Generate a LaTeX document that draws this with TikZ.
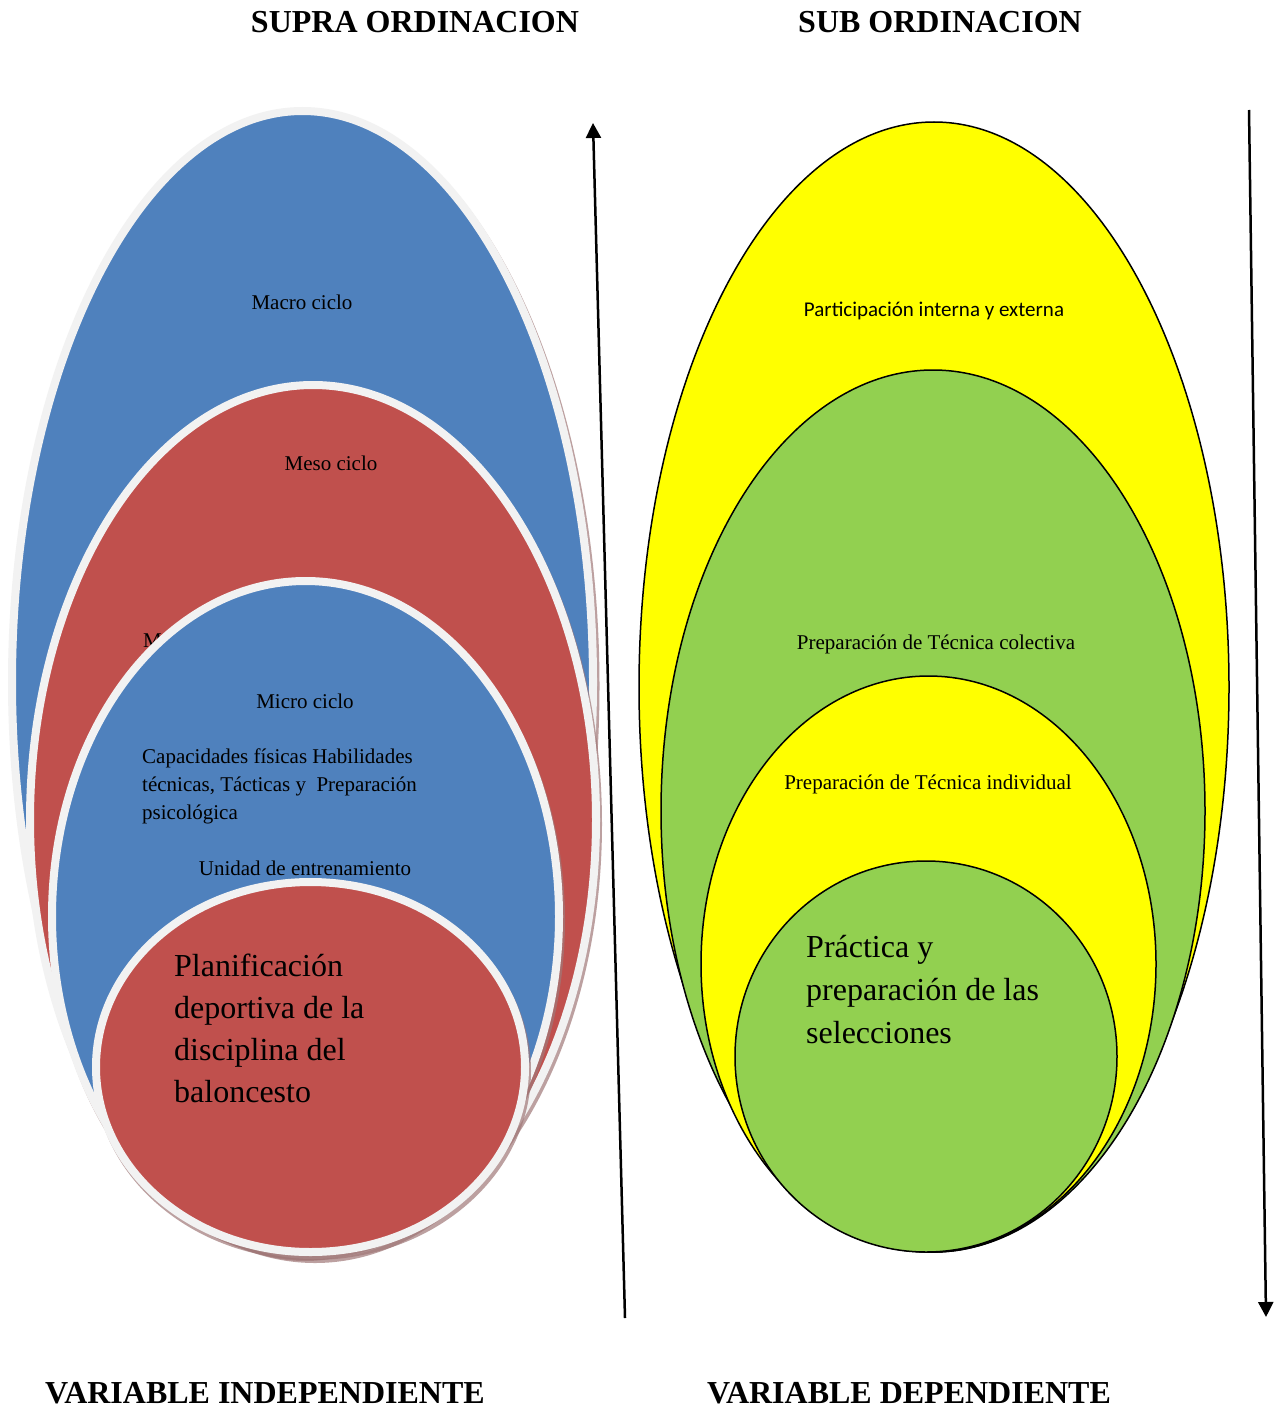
\documentclass[tikz,border=0pt]{standalone}
\usepackage{fontspec}
\setmainfont{Liberation Serif}
\newfontfamily\calfont{Carlito}
\usetikzlibrary{shapes.geometric,arrows.meta}
\definecolor{cblue}{HTML}{4F81BD}
\definecolor{cred}{HTML}{C0504D}
\definecolor{cyel}{HTML}{FFFF00}
\definecolor{cgreen}{HTML}{92D050}
\definecolor{cbord}{HTML}{F2F2F2}
\definecolor{cshad}{HTML}{A07878}
\begin{document}
\begin{tikzpicture}[x=1pt,y=-1pt,
 lell/.style={ellipse, inner sep=0, outer sep=0, draw=cbord, line width=8pt},
 rell/.style={ellipse, inner sep=0, outer sep=0, draw=black, line width=1.5pt},
 shad/.style={ellipse, inner sep=0, outer sep=0, fill=cshad, opacity=0.7},
 head/.style={font=\fontsize{32}{38}\selectfont\bfseries, anchor=base, inner sep=0},
 small/.style={font=\fontsize{21}{28}\selectfont, inner sep=0},
 big/.style={font=\fontsize{32}{42}\selectfont, inner sep=0, anchor=base west},
 arr/.style={line width=2.5pt, -{Triangle[length=15pt,width=15pt]}}]
\useasboundingbox[fill=white] (0,0) rectangle (1285,1410);

% headings
\node[head] (supra) at (415,33) {SUPRA ORDINACION};
\node[head] (sub) at (940,33) {SUB ORDINACION};
\node[head] (vind) at (265,1403) {VARIABLE INDEPENDIENTE};
\node[head] (vdep) at (909,1403) {VARIABLE DEPENDIENTE};

% left group
\node[shad, minimum width=589pt, minimum height=1150pt] (macros) at (305,686) {};
\node[lell, fill=cblue, minimum width=581pt, minimum height=1142pt] (macro) at (302.5,682) {};
\node[shad, minimum width=574pt, minimum height=878pt] (mesos) at (315,824) {};
\node[lell, fill=cred, minimum width=566pt, minimum height=870pt] (meso) at (313,820) {};
\node[small, anchor=base west] (mhid) at (143,647) {Micro ciclo};
\node[shad, minimum width=515pt, minimum height=679pt] (micros) at (307.5,920.5) {};
\node[lell, fill=cblue, minimum width=507pt, minimum height=671pt] (micro) at (305.5,916.5) {};
\node[shad, minimum width=437pt, minimum height=378pt] (unis) at (312.5,1071) {};
\node[lell, fill=cred, minimum width=429pt, minimum height=370pt] (uni) at (310.5,1067) {};

\node[small, anchor=base] (tmacro) at (302,309) {Macro ciclo};
\node[small, anchor=base] (tmeso) at (331,470) {Meso ciclo};
\node[small, anchor=base] (tmicro) at (305,708) {Micro ciclo};
\node[small, anchor=base west] (cap1) at (142,763) {Capacidades físicas Habilidades};
\node[small, anchor=base west] (cap2) at (142,791) {técnicas, Tácticas y\ \ Preparación};
\node[small, anchor=base west] (cap3) at (142,819) {psicológica};
\node[small, anchor=base] (tuni) at (305,875) {Unidad de entrenamiento};
\node[big] (pl1) at (174,976) {Planificación};
\node[big] (pl2) at (174,1018) {deportiva de la};
\node[big] (pl3) at (174,1060) {disciplina del};
\node[big] (pl4) at (174,1102) {baloncesto};

% right group
\node[rell, fill=cyel, minimum width=590pt, minimum height=1130pt] (part) at (934,687) {};
\node[rell, fill=cgreen, minimum width=544pt, minimum height=882pt] (colec) at (933,811) {};
\node[rell, fill=cyel, minimum width=455pt, minimum height=576pt] (indiv) at (928.5,964) {};
\node[rell, fill=cgreen, minimum width=382pt, minimum height=391pt] (prac) at (926,1056.5) {};

\node[small, anchor=base, font=\calfont\fontsize{21}{26}\selectfont] (tpart) at (934,316) {Participación interna y externa};
\node[small, anchor=base] (tcolec) at (936,649) {Preparación de Técnica colectiva};
\node[small, anchor=base] (tindiv) at (928,789) {Preparación de Técnica individual};
\node[big] (pr1) at (806,957) {Práctica y};
\node[big] (pr2) at (806,1000) {preparación de las};
\node[big] (pr3) at (806,1043) {selecciones};

% arrows
\coordinate (a1s) at (625,1318);
\coordinate (a1e) at (593,123);
\coordinate (a2s) at (1249,110);
\coordinate (a2e) at (1266,1317);
\draw[arr] (a1s) -- (a1e);
\draw[arr] (a2s) -- (a2e);
\end{tikzpicture}
\end{document}
